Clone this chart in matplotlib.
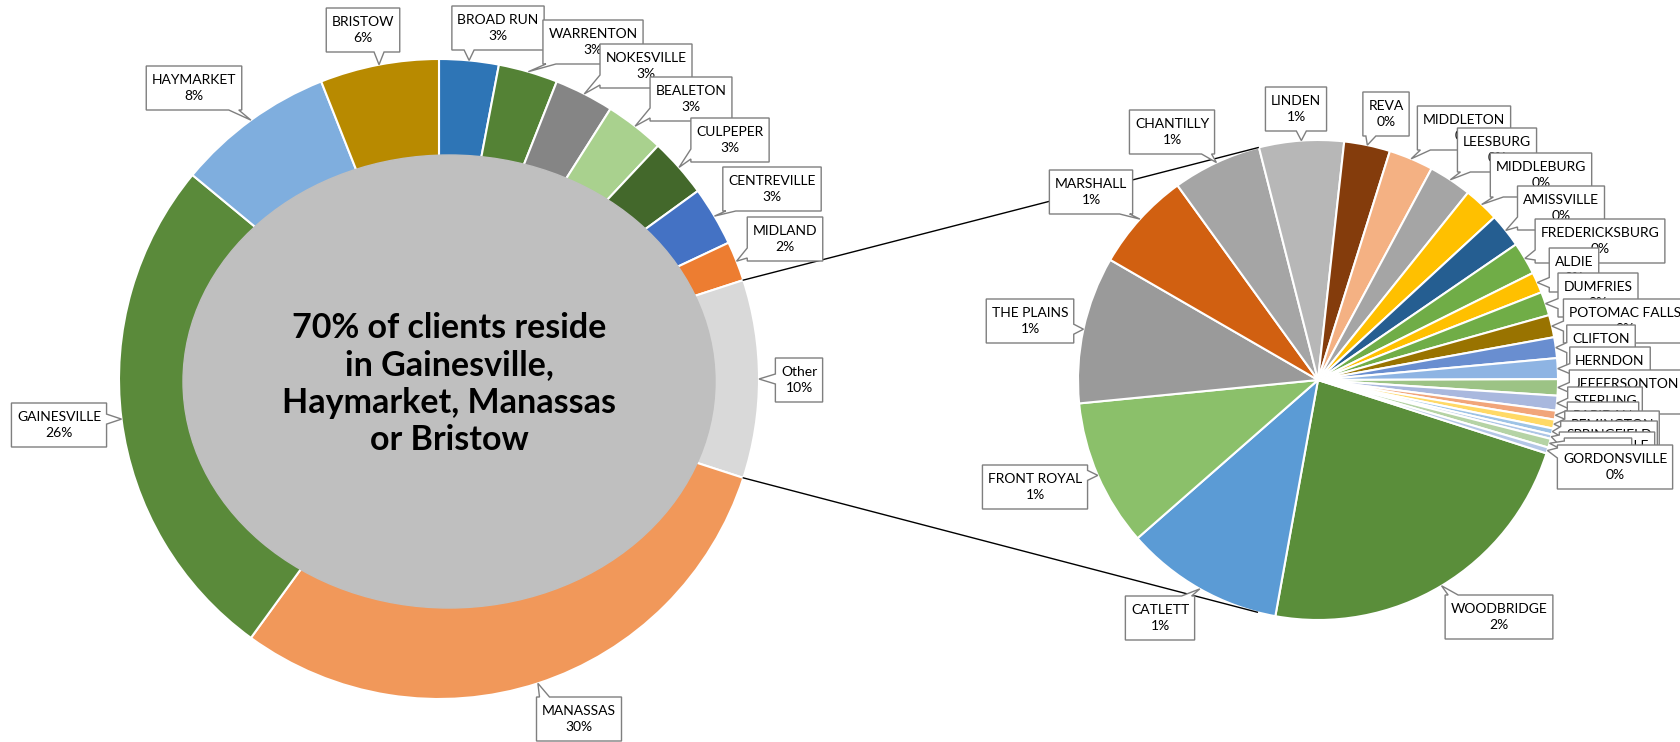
import numpy as np
import matplotlib.pyplot as plt
from matplotlib.patches import Ellipse, Polygon

plt.rcParams['font.family'] = ['Lato', 'DejaVu Sans']

# share of all clients by town, clockwise from 12 o'clock
towns = ["BROAD RUN", "WARRENTON", "NOKESVILLE", "BEALETON", "CULPEPER",
         "CENTREVILLE", "MIDLAND", "Other", "MANASSAS", "GAINESVILLE",
         "HAYMARKET", "BRISTOW"]
town_pct = [3, 3, 3, 3, 3, 3, 2, 10, 30, 26, 8, 6]
town_colors = ["#2E75B6", "#548235", "#858585", "#A9D18E", "#43682B",
               "#4472C4", "#ED7D31", "#D9D9D9", "#F1985A", "#5A8A3A",
               "#7FAEDE", "#B88A00"]

# the "Other" slice broken down (still % of all clients)
other_towns = ["WOODBRIDGE", "CATLETT", "FRONT ROYAL", "THE PLAINS", "MARSHALL",
               "CHANTILLY", "LINDEN", "REVA", "MIDDLETON", "LEESBURG",
               "MIDDLEBURG", "AMISSVILLE", "FREDERICKSBURG", "ALDIE", "DUMFRIES",
               "POTOMAC FALLS", "CLIFTON", "HERNDON", "JEFFERSONTON", "STERLING",
               "RAPIDAN", "REMINGTON", "SPRINGFIELD", "SPERRYVILLE", "LORTON",
               "GORDONSVILLE"]
other_pct = [2.29, 1.07, 0.99, 0.99, 0.67, 0.60, 0.57, 0.31, 0.30, 0.29,
             0.24, 0.23, 0.22, 0.14, 0.16, 0.15, 0.14, 0.14, 0.11, 0.10,
             0.06, 0.06, 0.04, 0.03, 0.06, 0.04]
other_colors = ["#5A8E3A", "#5B9BD5", "#8BC06A", "#9A9A9A", "#D16011",
                "#A5A5A5", "#B7B7B7", "#843C0C", "#F4B183", "#A5A5A5",
                "#FFC000", "#255E91", "#70AD47", "#FFC000", "#70AD47",
                "#997300", "#698ED0", "#8EB4E3", "#9CC385", "#A9B8DE",
                "#F1A57A", "#FFD966", "#9DC3E6", "#ADC6E6", "#B5D3A5",
                "#B4C7E7"]

center_text = "70% of clients reside\nin Gainesville,\nHaymarket, Manassas\nor Bristow"

W, H = 1680, 742

# label box centres, pixels from the top-left corner
town_lbl = [(498, 28), (593, 42), (646, 66), (691, 99), (730, 140), (772, 189),
            (785, 239), (799, 380), (579, 719), (59, 425), (194, 88), (363, 30)]
other_lbl = [(1499, 617), (1160, 618), (1035, 487), (1030, 321), (1091, 192),
             (1172, 132), (1296, 109), (1386, 114), (1464, 128), (1497, 150),
             (1541, 175), (1561, 208), (1600, 241), (1574, 270), (1598, 295),
             (1625, 321), (1601, 347), (1610, 369), (1627, 392), (1605, 409),
             (1603, 424), (1612, 433), (1609, 443), (1607, 454), (1598, 460),
             (1615, 467)]

donut_c, donut_r = (439, H - 379), 320
pie_c, pie_r = (1318, H - 380), 240

fig = plt.figure(figsize=(16.8, 7.42), dpi=100)
ax = fig.add_axes([0, 0, 1, 1])

w1, _ = ax.pie(town_pct, colors=town_colors, startangle=90, counterclock=False,
               center=donut_c, radius=donut_r,
               wedgeprops=dict(edgecolor='white', linewidth=1.5))
ax.add_patch(Ellipse((449, H - 381.5), 532, 453, color='#BFBFBF', zorder=2))
ax.text(449, H - 384, center_text, ha='center', va='center', fontsize=24.5,
        fontweight='bold', linespacing=1.2, zorder=3)

w2, _ = ax.pie(other_pct, colors=other_colors, startangle=-17.8, counterclock=False,
               center=pie_c, radius=pie_r,
               wedgeprops=dict(edgecolor='white', linewidth=1.5))

ax.set_xlim(0, W)
ax.set_ylim(0, H)
ax.set_aspect('equal')
ax.axis('off')


# connector lines: from the edges of "Other" to tangents of the right pie
def on_circle(c, r, ang):
    a = np.deg2rad(ang)
    return c[0] + r * np.cos(a), c[1] + r * np.sin(a)


other_w = w1[towns.index("Other")]
for ang, upper in [(other_w.theta2, True), (other_w.theta1, False)]:
    px, py = on_circle(donut_c, donut_r, ang)
    d = np.hypot(px - pie_c[0], py - pie_c[1])
    phi = np.arctan2(py - pie_c[1], px - pie_c[0])
    beta = np.arccos(pie_r / d)
    cands = [on_circle(pie_c, pie_r, np.rad2deg(phi + s * beta)) for s in (1, -1)]
    tx, ty = max(cands, key=lambda p: p[1]) if upper else min(cands, key=lambda p: p[1])
    ax.plot([px, tx], [py, ty], color='black', lw=1, zorder=4)


def callout_pts(x0, y0, x1, y1, tx, ty, half=5):
    cx, cy = (x0 + x1) / 2, (y0 + y1) / 2
    w, h = x1 - x0, y1 - y0
    dx, dy = tx - cx, ty - cy
    if abs(dx) < w / 2 and abs(dy) < h / 2:
        return [(x0, y0), (x1, y0), (x1, y1), (x0, y1)]
    if abs(dx) / w > abs(dy) / h:
        b = np.clip(ty, y0 + half + 3, y1 - half - 3)
        if dx > 0:
            return [(x0, y0), (x1, y0), (x1, b - half), (tx, ty), (x1, b + half), (x1, y1), (x0, y1)]
        return [(x0, y0), (x1, y0), (x1, y1), (x0, y1), (x0, b + half), (tx, ty), (x0, b - half)]
    b = np.clip(tx, x0 + half + 3, x1 - half - 3)
    if dy > 0:
        return [(x0, y0), (x1, y0), (x1, y1), (b + half, y1), (tx, ty), (b - half, y1), (x0, y1)]
    return [(x0, y0), (b - half, y0), (tx, ty), (b + half, y0), (x1, y0), (x1, y1), (x0, y1)]


renderer = fig.canvas.get_renderer()
inv = ax.transData.inverted()
z = 10


def add_labels(wedges, names, pcts, centres, c, r):
    global z
    for wd, name, p, (lx, ly) in zip(wedges, names, pcts, centres):
        mid = (wd.theta1 + wd.theta2) / 2
        tx, ty = on_circle(c, r, mid)
        ly = H - ly
        t = ax.text(lx, ly, f"{name}\n{round(p):.0f}%", ha='center', va='center',
                    fontsize=10, linespacing=1.45, zorder=z + 1)
        bb = t.get_window_extent(renderer=renderer)
        (bx0, _), (bx1, _) = inv.transform([(bb.x0, 0), (bb.x1, 0)])
        bw = (bx1 - bx0) + 11
        bh = 44
        pts = callout_pts(lx - bw / 2, ly - bh / 2, lx + bw / 2, ly + bh / 2, tx, ty)
        ax.add_patch(Polygon(pts, closed=True, facecolor='white', edgecolor='#7F7F7F',
                             lw=1, zorder=z))
        z += 2


add_labels(w1, towns, town_pct, town_lbl, donut_c, donut_r)
add_labels(w2, other_towns, other_pct, other_lbl, pie_c, pie_r)

fig.savefig("out.png", dpi=100)
